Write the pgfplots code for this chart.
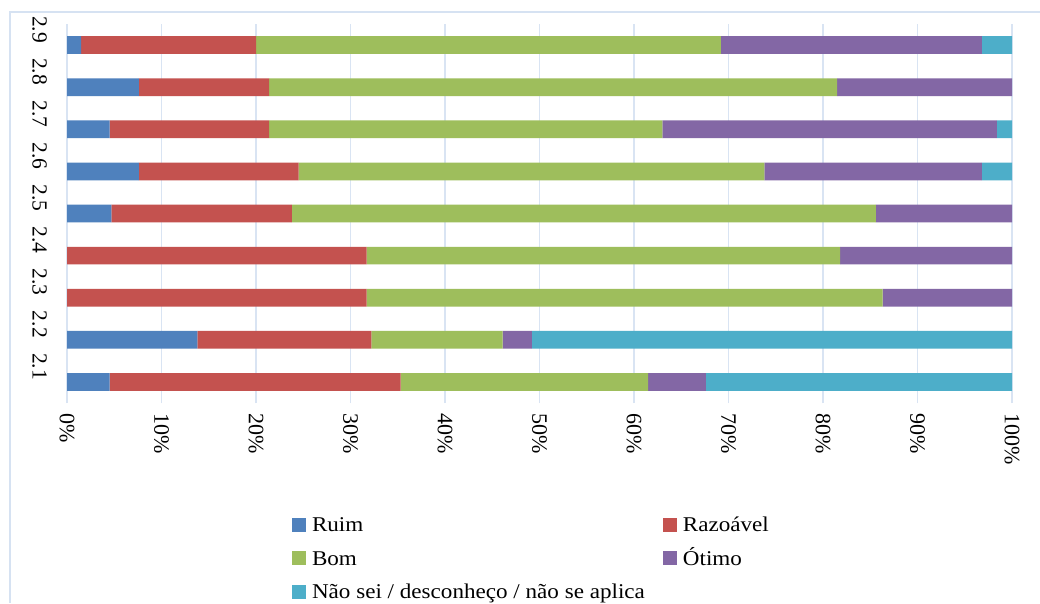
\documentclass[border=0pt]{standalone}
\usepackage{fontspec}
\setmainfont{Liberation Serif}
\usepackage{pgfplots}
\usepackage{pgfplotstable}
\pgfplotsset{compat=1.18}
\definecolor{ruim}{RGB}{79,129,189}
\definecolor{raz}{RGB}{196,82,79}
\definecolor{bom}{RGB}{158,190,92}
\definecolor{otimo}{RGB}{131,103,165}
\definecolor{ns}{RGB}{77,174,201}
\definecolor{gridc}{RGB}{217,228,243}
\definecolor{framec}{RGB}{214,226,242}

\pgfplotstableread{
y ruim raz bom otimo ns
1 4.5 30.8 26.2 6.1 32.4
2 13.8 18.4 13.9 3.1 50.8
3 0 31.7 54.6 13.7 0
4 0 31.7 50.1 18.2 0
5 4.7 19.1 61.8 14.4 0
6 7.6 16.9 49.3 23.0 3.2
7 4.5 16.9 41.6 35.4 1.6
8 7.6 13.8 60.1 18.5 0
9 1.5 18.5 49.2 27.6 3.2
}\data

\begin{document}
\begin{tikzpicture}
\useasboundingbox (0pt,0pt) rectangle (1040pt,-603pt);
\fill[white] (0pt,0pt) rectangle (1040pt,-603pt);
\draw[framec, line width=1.3pt] (10pt,-603pt) -- (10pt,-12pt) -- (1040pt,-12pt);
\begin{axis}[
  at={(67pt,-403pt)}, anchor=south west,
  scale only axis, width=945pt, height=379pt,
  xbar stacked, bar width=17.7pt,
  xmin=0, xmax=100, ymin=0.5, ymax=9.5,
  axis line style={draw=none},
  major tick length=0pt,
  xmajorgrids, grid style={gridc, line width=1.4pt},
  xtick={0,10,...,100},
  xticklabel={\pgfmathprintnumber{\tick}\%},
  ytick={1,...,9},
  yticklabels={2.1,2.2,2.3,2.4,2.5,2.6,2.7,2.8,2.9},
  /pgf/number format/assume math mode=true,
  xticklabel style={font=\fontsize{22}{26}\selectfont, inner sep=0pt, yshift=-10pt, rotate=-90, anchor=west},
  yticklabel style={font=\fontsize{21.5}{26}\selectfont, inner sep=0pt, xshift=-20pt, yshift=15.5pt, rotate=-90, anchor=north},
  legend columns=2,
  legend cell align=left,
  legend image code/.code={\fill[#1] (0pt,-5pt) rectangle (14pt,9pt);},
  legend style={draw=none, fill=none, at={(0.2381,-0.2995)}, anchor=north west,
    inner sep=0pt, outer sep=0pt,
    nodes={inner sep=0pt, text height=15pt, text depth=5pt},
    row sep=13.5pt,
    font=\fontsize{21}{25}\selectfont,
    /tikz/every odd column/.append style={column sep=6pt},
    /tikz/every even column/.append style={column sep=18pt}},
]
\addplot[draw=none, fill=ruim] table[x=ruim, y=y] {\data};
\addlegendentry{\scalebox{1.1}[1]{Ruim}}
\addplot[draw=none, fill=raz] table[x=raz, y=y] {\data};
\addlegendentry{\scalebox{1.1}[1]{Razoável}}
\addplot[draw=none, fill=bom] table[x=bom, y=y] {\data};
\addlegendentry{\scalebox{1.1}[1]{Bom}}
\addplot[draw=none, fill=otimo] table[x=otimo, y=y] {\data};
\addlegendentry{\scalebox{1.1}[1]{Ótimo}}
\addplot[draw=none, fill=ns] table[x=ns, y=y] {\data};
\addlegendentry{\scalebox{1.1}[1]{Não sei / desconheço / não se aplica}}
\end{axis}
\end{tikzpicture}
\end{document}
